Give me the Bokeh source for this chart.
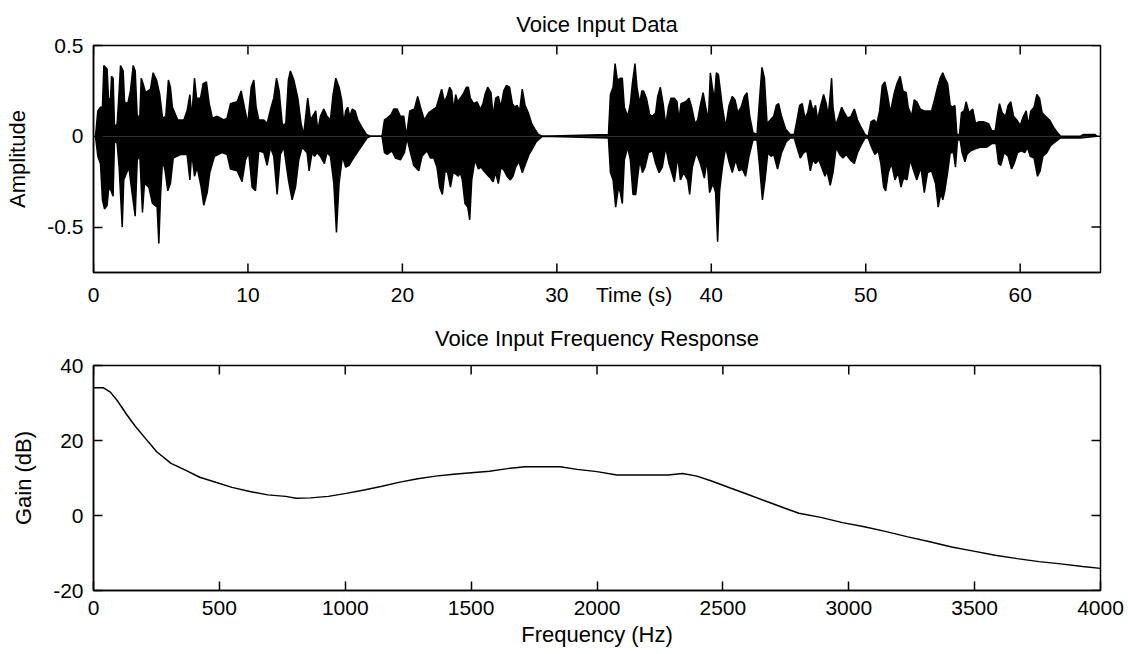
import math
from bokeh.plotting import figure
from bokeh.layouts import column
from bokeh.models import Range1d, FixedTicker
from bokeh.embed import file_html
from bokeh.resources import INLINE

# ---------------- data ----------------
# Voice waveform: upper envelope (time s, amplitude)
up_t = [0.13, 0.28, 0.45, 0.58, 0.67, 0.88, 0.97, 1.10, 1.17, 1.27, 1.36, 1.53, 1.62, 1.75, 1.92, 2.01, 2.22, 2.39,
        2.57, 2.70, 2.83, 3.00, 3.09, 3.21, 3.37, 3.69, 3.86, 4.08, 4.29, 4.47, 4.68, 4.85, 4.98, 5.11, 5.46, 5.85,
        6.06, 6.24, 6.36, 6.54, 6.67, 6.93, 7.10, 7.31, 7.49, 7.70, 8.01, 8.44, 8.65, 8.87, 9.30, 9.56, 9.77, 9.99,
        10.21, 10.38, 10.53, 10.70,
        11.03, 11.24, 11.50, 11.67, 11.85, 12.02, 12.23, 12.45, 12.62, 12.75, 12.97, 13.23, 13.44, 13.61, 13.79,
        13.87, 14.05, 14.26, 14.39, 14.52, 14.69, 14.91, 15.12, 15.34, 15.51, 15.69, 15.90, 16.07, 16.20, 16.33,
        16.46, 16.59, 16.76, 16.94, 17.11, 17.37, 17.67, 17.93, 18.68, 18.84, 19.01, 19.27, 19.44, 19.66, 19.87,
        20.09, 20.26, 20.48, 20.78, 20.99, 21.17, 21.42, 21.71,
        22.03, 22.20, 22.37, 22.54, 22.72, 22.89, 23.06, 23.19, 23.32, 23.45, 23.58, 23.75, 23.92, 24.14, 24.27,
        24.40, 24.61, 24.83, 25.05, 25.22, 25.35, 25.52, 25.74, 25.87, 26.04, 26.21, 26.38, 26.56, 26.73, 26.94,
        27.12, 27.29, 27.42, 27.59, 27.76, 27.94, 28.15, 28.37, 28.58, 28.80, 29.06,
        33.34, 33.47, 33.64, 33.77, 33.90, 34.03, 34.11, 34.24, 34.37, 34.59, 34.76, 34.89, 35.06, 35.19, 35.37,
        35.50, 35.62, 35.80, 36.01, 36.19, 36.40, 36.53, 36.70, 36.88, 37.05, 37.22, 37.39, 37.61, 37.78, 37.91,
        38.04, 38.34, 38.56, 38.73, 38.95, 39.12, 39.29, 39.47, 39.64, 39.81, 39.94, 40.07, 40.20, 40.33, 40.46,
        40.59, 40.72, 40.93, 41.15, 41.36, 41.54, 41.71, 41.93, 42.14, 42.31, 42.49, 42.70, 42.96, 43.13, 43.28,
        43.44, 43.61, 43.82,
        44.04, 44.21, 44.36, 44.55, 44.81, 45.11, 45.37, 45.55, 45.72, 45.89, 46.06, 46.24, 46.41, 46.58, 46.75,
        46.88, 47.06, 47.27, 47.44, 47.57, 47.70, 47.79, 47.88, 48.05, 48.26, 48.44, 48.61, 48.83, 49.04, 49.26,
        49.47, 49.69, 49.95, 50.16, 50.34, 50.55, 50.72, 50.90, 51.07, 51.24, 51.41, 51.59, 51.85, 52.02, 52.23,
        52.41, 52.62, 52.75, 52.97, 53.14, 53.31, 53.53, 53.79, 54.00, 54.26, 54.48, 54.65, 54.82,
        54.99, 55.12, 55.30, 55.47, 55.64, 55.77, 55.90, 56.07, 56.20, 56.37, 56.50, 56.68, 56.93, 57.11, 57.32,
        57.62, 57.95, 58.16, 58.38, 58.53, 58.66, 58.83, 59.05, 59.22, 59.39, 59.57, 59.78, 60.00, 60.21, 60.39,
        60.52, 60.69, 60.90, 61.08, 61.25, 61.42, 61.64, 61.90, 62.16, 62.41, 62.63, 63.88, 64.10, 64.85, 64.96]
up_a = [0.0, 0.14, 0.16, 0.16, 0.39, 0.37, 0.21, 0.20, 0.33, 0.32, 0.05, 0.07, 0.19, 0.39, 0.36, 0.19, 0.18, 0.25,
        0.39, 0.36, 0.11, 0.11, 0.32, 0.29, 0.24, 0.26, 0.35, 0.31, 0.23, 0.10, 0.11, 0.31, 0.27, 0.16, 0.09, 0.09,
        0.14, 0.23, 0.10, 0.32, 0.21, 0.21, 0.29, 0.30, 0.18, 0.10, 0.11, 0.09, 0.10, 0.18, 0.19, 0.25, 0.16, 0.07,
        0.27, 0.31, 0.16, 0.09,
        0.09, 0.07, 0.16, 0.21, 0.32, 0.25, 0.06, 0.07, 0.31, 0.36, 0.31, 0.21, 0.07, 0.01, 0.15,
        0.21, 0.09, 0.12, 0.14, 0.03, 0.11, 0.15, 0.11, 0.09, 0.23, 0.32, 0.27, 0.20, 0.07, 0.14,
        0.16, 0.11, 0.15, 0.14, 0.09, 0.05, 0.01, 0.0, 0.0, 0.09, 0.10, 0.12, 0.15, 0.15, 0.11,
        0.11, 0.0, 0.14, 0.15, 0.22, 0.16, 0.09, 0.13,
        0.15, 0.16, 0.21, 0.26, 0.19, 0.22, 0.27, 0.25, 0.14, 0.23, 0.19, 0.21, 0.23, 0.27, 0.27,
        0.21, 0.18, 0.19, 0.15, 0.18, 0.23, 0.27, 0.24, 0.11, 0.21, 0.22, 0.16, 0.25, 0.28, 0.27,
        0.18, 0.16, 0.17, 0.14, 0.26, 0.17, 0.13, 0.07, 0.04, 0.01, 0.0,
        0.01, 0.23, 0.27, 0.40, 0.32, 0.31, 0.32, 0.32, 0.16, 0.11, 0.18, 0.29, 0.40, 0.27, 0.18,
        0.25, 0.25, 0.21, 0.12, 0.11, 0.13, 0.22, 0.27, 0.18, 0.06, 0.16, 0.21, 0.21, 0.19, 0.09,
        0.18, 0.19, 0.21, 0.16, 0.07, 0.09, 0.17, 0.24, 0.16, 0.09, 0.35, 0.27, 0.20, 0.35, 0.34,
        0.25, 0.16, 0.05, 0.17, 0.22, 0.20, 0.13, 0.16, 0.22, 0.24, 0.11, 0.02, 0.01, 0.21, 0.38,
        0.32, 0.07, 0.09,
        0.11, 0.17, 0.18, 0.11, 0.04, 0.01, 0.01, 0.09, 0.17, 0.18, 0.10, 0.13, 0.20, 0.14, 0.17,
        0.09, 0.16, 0.23, 0.18, 0.11, 0.23, 0.32, 0.16, 0.06, 0.11, 0.16, 0.13, 0.10, 0.11, 0.15,
        0.09, 0.05, 0.01, 0.0, 0.08, 0.09, 0.07, 0.14, 0.28, 0.30, 0.23, 0.13, 0.24, 0.29, 0.33,
        0.25, 0.24, 0.16, 0.11, 0.20, 0.19, 0.15, 0.14, 0.14, 0.14, 0.21, 0.27, 0.32,
        0.35, 0.32, 0.29, 0.17, 0.16, 0.17, 0.01, 0.01, 0.13, 0.14, 0.19, 0.13, 0.15, 0.07, 0.08,
        0.08, 0.07, 0.03, 0.03, 0.12, 0.18, 0.13, 0.11, 0.17, 0.19, 0.11, 0.09, 0.06, 0.11, 0.14,
        0.06, 0.14, 0.16, 0.23, 0.21, 0.13, 0.11, 0.09, 0.05, 0.02, 0.0, 0.0, 0.01, 0.01, 0.0]

# Voice waveform: lower envelope (time s, amplitude)
lo_t = [0.13, 0.28, 0.45, 0.58, 0.71, 0.88, 0.99, 1.14, 1.27, 1.36, 1.53, 1.66, 1.86, 1.96, 2.29, 2.48, 2.70, 2.83,
        3.00, 3.17, 3.30, 3.58, 3.82, 4.12, 4.23, 4.34, 4.47, 4.64, 4.81, 4.98, 5.16, 5.63, 6.06, 6.24, 6.36, 6.54,
        6.71, 6.97, 7.14, 7.36, 7.53, 7.83, 8.33, 8.65, 8.87, 9.30, 9.62, 9.84, 10.05, 10.27, 10.49, 10.70,
        11.03, 11.24, 11.46, 11.67, 11.89, 12.10, 12.32, 12.62, 12.86, 13.08, 13.29, 13.51, 13.83, 13.96, 14.15,
        14.31, 14.48, 14.69, 14.95, 15.12, 15.34, 15.56, 15.73, 15.90, 16.12, 16.33, 16.55, 16.76, 17.07, 17.39,
        17.71, 17.93, 18.68, 18.84, 19.01, 19.33, 19.55, 19.87, 20.13, 20.30, 20.52, 20.73, 21.06, 21.27, 21.60,
        21.82,
        22.03, 22.24, 22.41, 22.59, 22.76, 22.93, 23.11, 23.28, 23.49, 23.62, 23.75, 23.88, 24.05, 24.23, 24.36,
        24.49, 24.70, 24.92, 25.09, 25.26, 25.48, 25.69, 25.87, 26.04, 26.21, 26.38, 26.60, 26.77, 26.99, 27.16,
        27.33, 27.55, 27.76, 27.98, 28.20, 28.41, 28.67, 28.93, 29.06,
        33.34, 33.47, 33.64, 33.81, 33.99, 34.11, 34.24, 34.37, 34.59, 34.76, 34.93, 35.11, 35.24, 35.37, 35.54,
        35.71, 35.93, 36.19, 36.40, 36.62, 36.83, 37.05, 37.26, 37.44, 37.61, 37.83, 38.00, 38.21, 38.47, 38.60,
        38.77, 39.03, 39.29, 39.55, 39.72, 39.89, 40.11, 40.28, 40.41, 40.54, 40.72, 40.93, 41.15, 41.36, 41.58,
        41.79, 42.01, 42.22, 42.44, 42.70, 42.96, 43.13, 43.31, 43.48, 43.66, 43.87,
        44.04, 44.29, 44.55, 44.85, 45.11, 45.37, 45.55, 45.76, 45.98, 46.19, 46.41, 46.58, 46.75, 46.97, 47.19,
        47.36, 47.49, 47.70, 47.88, 48.09, 48.31, 48.52, 48.74, 49.00, 49.26, 49.47, 49.69, 49.95, 50.16, 50.38,
        50.59, 50.81, 50.98, 51.16, 51.29, 51.46, 51.67, 51.89, 52.10, 52.28, 52.45, 52.67, 52.88, 53.14, 53.31,
        53.57, 53.79, 54.00, 54.26, 54.52, 54.69, 54.87,
        54.99, 55.12, 55.30, 55.47, 55.68, 55.81, 55.94, 56.11, 56.24, 56.42, 56.55, 56.80, 57.06, 57.41, 57.84,
        58.16, 58.44, 58.60, 58.75, 58.96, 59.22, 59.44, 59.61, 59.83, 60.08, 60.30, 60.47, 60.65, 60.90, 61.12,
        61.29, 61.47, 61.72, 61.98, 62.29, 62.59, 63.88, 64.96]
lo_a = [0.0, -0.11, -0.15, -0.35, -0.40, -0.38, -0.28, -0.30, -0.33, -0.02, -0.04, -0.17, -0.50, -0.24, -0.17, -0.30,
        -0.44, -0.13, -0.11, -0.42, -0.26, -0.28, -0.37, -0.39, -0.59, -0.33, -0.13, -0.19, -0.30, -0.26, -0.12, -0.10,
        -0.10, -0.24, -0.09, -0.22, -0.17, -0.28, -0.38, -0.31, -0.20, -0.11, -0.09, -0.10, -0.18, -0.19, -0.25, -0.13,
        -0.09, -0.28, -0.30, -0.08,
        -0.09, -0.16, -0.06, -0.11, -0.32, -0.10, -0.06, -0.24, -0.35, -0.28, -0.13, -0.06, -0.09, -0.19, -0.09,
        -0.11, -0.09, -0.11, -0.15, -0.09, -0.11, -0.26, -0.53, -0.26, -0.11, -0.17, -0.16, -0.13, -0.09, -0.05,
        -0.01, 0.0, 0.0, -0.09, -0.10, -0.08, -0.12, -0.13, -0.09, -0.01, -0.09, -0.16, -0.19, -0.11, -0.08,
        -0.12,
        -0.12, -0.17, -0.28, -0.32, -0.19, -0.20, -0.28, -0.20, -0.21, -0.22, -0.20, -0.24, -0.37, -0.39, -0.46,
        -0.24, -0.13, -0.18, -0.17, -0.19, -0.21, -0.23, -0.25, -0.20, -0.26, -0.17, -0.19, -0.22, -0.24, -0.22,
        -0.17, -0.14, -0.20, -0.15, -0.10, -0.07, -0.03, -0.01, 0.0,
        -0.01, -0.20, -0.24, -0.39, -0.28, -0.31, -0.37, -0.13, -0.06, -0.13, -0.32, -0.32, -0.22, -0.13, -0.20,
        -0.17, -0.09, -0.08, -0.15, -0.20, -0.17, -0.06, -0.15, -0.20, -0.25, -0.11, -0.24, -0.20, -0.24, -0.32,
        -0.17, -0.09, -0.15, -0.23, -0.13, -0.31, -0.26, -0.31, -0.58, -0.30, -0.17, -0.06, -0.14, -0.20, -0.13,
        -0.19, -0.18, -0.22, -0.11, -0.02, -0.02, -0.17, -0.35, -0.24, -0.09, -0.11,
        -0.10, -0.18, -0.09, -0.03, -0.01, -0.01, -0.06, -0.12, -0.09, -0.08, -0.19, -0.13, -0.15, -0.13, -0.18,
        -0.22, -0.19, -0.27, -0.20, -0.06, -0.10, -0.12, -0.10, -0.13, -0.15, -0.09, -0.05, -0.01, -0.01, -0.06,
        -0.10, -0.08, -0.15, -0.28, -0.30, -0.20, -0.15, -0.24, -0.20, -0.28, -0.23, -0.24, -0.13, -0.20, -0.24,
        -0.17, -0.31, -0.20, -0.19, -0.26, -0.39, -0.31,
        -0.35, -0.30, -0.20, -0.09, -0.09, -0.17, -0.02, -0.02, -0.09, -0.14, -0.10, -0.08, -0.07, -0.06, -0.06,
        -0.04, -0.04, -0.15, -0.16, -0.09, -0.11, -0.18, -0.15, -0.09, -0.08, -0.09, -0.06, -0.11, -0.12, -0.22,
        -0.19, -0.11, -0.09, -0.05, -0.03, -0.01, -0.01, 0.0]

# Frequency response (Hz, dB)
freq_hz = [0, 38, 67, 95, 131, 166, 202, 251, 308, 365, 422, 479, 550, 621, 692, 763, 805, 862, 933, 1004, 1075,
           1146, 1217, 1288, 1359, 1430, 1501, 1573, 1644, 1715, 1854, 1921, 2000, 2079, 2181, 2282, 2340, 2397,
           2455, 2527, 2600, 2672, 2744, 2802, 2889, 2975, 3062, 3149, 3235, 3322, 3409, 3496, 3582, 3669, 3756,
           3842, 3929, 4000]
gain_db = [34.1, 34.1, 32.9, 30.6, 27.0, 23.8, 20.9, 17.0, 13.9, 12.1, 10.2, 9.0, 7.5, 6.4, 5.5, 5.1, 4.6, 4.7,
           5.1, 5.9, 6.8, 7.8, 8.9, 9.8, 10.5, 11.0, 11.4, 11.8, 12.5, 13.0, 13.0, 12.3, 11.7, 10.8, 10.8, 10.8,
           11.2, 10.5, 9.2, 7.4, 5.6, 3.8, 2.0, 0.6, -0.5, -1.9, -3.0, -4.3, -5.7, -7.0, -8.4, -9.5, -10.6, -11.5,
           -12.3, -12.9, -13.6, -14.1]

# ticks and texts
time_range = (0, 65.2)
amp_range = (-0.75, 0.5)
freq_range = (0, 4000)
gain_range = (-20, 40)
time_ticks = [0, 10, 20, 30, 40, 50, 60]
time_tick_labels = ["0", "10", "20", "30", "40", "50", "60"]
amp_ticks = [-0.5, 0, 0.5]
amp_tick_labels = ["-0.5", "0", "0.5"]
freq_ticks = [0, 500, 1000, 1500, 2000, 2500, 3000, 3500, 4000]
freq_tick_labels = ["0", "500", "1000", "1500", "2000", "2500", "3000", "3500", "4000"]
gain_ticks = [-20, 0, 20, 40]
gain_tick_labels = ["-20", "0", "20", "40"]
title_top = "Voice Input Data"
title_bottom = "Voice Input Frequency Response"
xlabel_top = "Time (s)"
xlabel_top_at = 35.0          # the time label sits in the tick-label row, between 30 and 40
ylabel_top = "Amplitude"
xlabel_bottom = "Frequency (Hz)"
ylabel_bottom = "Gain (dB)"

FONT = "Liberation Sans"
TICK_SIZE = "21px"
TEXT_SIZE = "22px"
TICK_LEN = 18   # marker length; half of it shows inside the frame


def style_axis(ax, tick_in=9):
    ax.axis_line_color = "black"
    ax.axis_line_width = 1.5
    ax.major_tick_line_color = "black"
    ax.major_tick_line_width = 1.5
    ax.major_tick_in = tick_in
    ax.major_tick_out = 0
    ax.minor_tick_in = 0
    ax.minor_tick_out = 0
    ax.major_label_text_font = FONT
    ax.major_label_text_font_size = TICK_SIZE
    ax.major_label_text_color = "black"
    ax.axis_label_text_font = FONT
    ax.axis_label_text_font_size = TEXT_SIZE
    ax.axis_label_text_font_style = "normal"
    ax.axis_label_text_color = "black"


def make_fig(height, xr, yr, top, bottom, title, title_standoff):
    p = figure(width=1128, height=height, x_range=Range1d(*xr), y_range=Range1d(*yr),
               output_backend="svg", toolbar_location=None,
               min_border_left=93, min_border_right=28,
               min_border_top=top, min_border_bottom=bottom)
    p.grid.visible = False
    p.outline_line_color = "black"
    p.outline_line_width = 1.5
    p.background_fill_color = "white"
    p.border_fill_color = "white"
    p.title.text = title
    p.title.align = "center"
    p.title.text_font = FONT
    p.title.text_font_size = TEXT_SIZE
    p.title.text_font_style = "normal"
    p.title.text_color = "black"
    p.title.standoff = title_standoff
    return p


def mirror_ticks(p, xticks, yticks, xr, yr, bottom_too=False):
    # inward tick marks on the top and right sides of the box (MATLAB "box on")
    p.scatter(x=xticks, y=[yr[1]] * len(xticks), marker="dash", angle=math.pi / 2,
              size=TICK_LEN, line_color="black", line_width=1.5)
    p.scatter(x=[xr[1]] * len(yticks), y=yticks, marker="dash", angle=0,
              size=TICK_LEN, line_color="black", line_width=1.5)
    if bottom_too:
        p.scatter(x=xticks, y=[yr[0]] * len(xticks), marker="dash", angle=math.pi / 2,
                  size=TICK_LEN, line_color="black", line_width=1.5)


# ---------------- top: waveform ----------------
p1 = make_fig(309, time_range, amp_range, 45, 37, title_top, 17)
p1.varea(x=up_t, y1=0, y2=up_a, fill_color="black")
p1.varea(x=lo_t, y1=lo_a, y2=0, fill_color="black")
p1.line(up_t, up_a, line_color="black", line_width=1.5)
p1.line(lo_t, lo_a, line_color="black", line_width=1.5)
mirror_ticks(p1, time_ticks, amp_ticks, time_range, amp_range, bottom_too=True)

xa1 = p1.below[0]
ya1 = p1.left[0]
style_axis(xa1, tick_in=0)
style_axis(ya1)
xa1.ticker = FixedTicker(ticks=time_ticks + [xlabel_top_at])
xa1.major_label_overrides = dict(zip(time_ticks + [xlabel_top_at], time_tick_labels + [xlabel_top]))
xa1.major_label_standoff = 10
ya1.ticker = FixedTicker(ticks=amp_ticks)
ya1.major_label_overrides = dict(zip(amp_ticks, amp_tick_labels))
ya1.major_label_standoff = 10
ya1.axis_label = ylabel_top
ya1.axis_label_standoff = 14

# ---------------- bottom: frequency response ----------------
p2 = make_fig(345, freq_range, gain_range, 56, 64, title_bottom, 29)
p2.line(freq_hz, gain_db, line_color="black", line_width=1.5)
mirror_ticks(p2, freq_ticks, gain_ticks, freq_range, gain_range)

xa2 = p2.below[0]
ya2 = p2.left[0]
style_axis(xa2)
style_axis(ya2)
xa2.ticker = FixedTicker(ticks=freq_ticks)
xa2.major_label_overrides = dict(zip(freq_ticks, freq_tick_labels))
xa2.major_label_standoff = 10
xa2.axis_label = xlabel_bottom
xa2.axis_label_standoff = 4
ya2.ticker = FixedTicker(ticks=gain_ticks)
ya2.major_label_overrides = dict(zip(gain_ticks, gain_tick_labels))
ya2.major_label_standoff = 10
ya2.axis_label = ylabel_bottom
ya2.axis_label_standoff = 14

layout = column(p1, p2)
open("out.html", "w").write(file_html(layout, INLINE))
